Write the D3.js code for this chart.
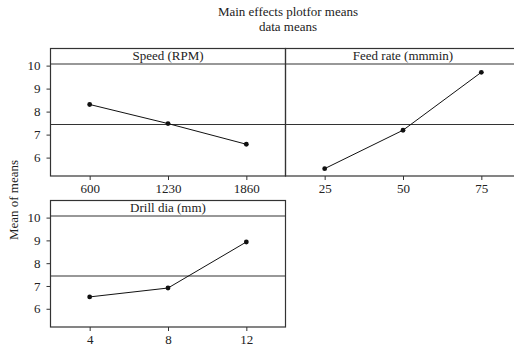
<!DOCTYPE html>
<html>
<head>
<meta charset="utf-8">
<script src="https://cdn.jsdelivr.net/npm/d3@7"></script>
<style>
  body { margin: 0; background: #fff; }
  svg { display: block; }
  text { font-family: "Liberation Serif", "DejaVu Serif", serif; fill: #222; }
</style>
</head>
<body>
<div id="chart"></div>
<script>
// values
var factors = ["Speed (RPM)", "Feed rate (mmmin)", "Drill dia (mm)"];
var speedLevels = ["600", "1230", "1860"];
var speedMeans = [8.31, 7.48, 6.58];
var feedLevels = ["25", "50", "75"];
var feedMeans = [5.52, 7.19, 9.71];
var drillLevels = ["4", "8", "12"];
var drillMeans = [6.52, 6.91, 8.93];
var grandMean = 7.44;
var yTicks = [6, 7, 8, 9, 10];

var panels = [
    { name: factors[0], levels: speedLevels, means: speedMeans, col: 0, row: 0 },
    { name: factors[1], levels: feedLevels, means: feedMeans, col: 1, row: 0 },
    { name: factors[2], levels: drillLevels, means: drillMeans, col: 0, row: 1 }
];

var W = 514, H = 347;
var colX = [50.5, 285.5], panelW = 235;
var rowY = [48.5, 200.5], stripH = 15.5, plotH = [112, 111];
var fs = "13px";

var svg = d3.select("#chart").append("svg")
    .attr("width", W)
    .attr("height", H);

svg.append("text")
    .attr("x", 288).attr("y", 16)
    .attr("text-anchor", "middle")
    .style("font-size", fs)
    .text("Main effects plotfor means");
svg.append("text")
    .attr("x", 288).attr("y", 31)
    .attr("text-anchor", "middle")
    .style("font-size", fs)
    .text("data means");

svg.append("text")
    .attr("transform", "translate(18,200) rotate(-90)")
    .attr("text-anchor", "middle")
    .style("font-size", fs)
    .text("Mean of means");

panels.forEach(function (p) {
    var x0 = colX[p.col], y0 = rowY[p.row];
    var top = y0 + stripH, h = plotH[p.row];

    var g = svg.append("g").attr("transform", "translate(" + x0 + "," + top + ")");

    var x = d3.scalePoint().domain(p.levels).range([0, panelW]).padding(0.5);
    var y = d3.scaleLinear().domain([5.2, 10.07]).range([h, 0]);

    // strip + frame
    svg.append("rect")
        .attr("x", x0).attr("y", y0)
        .attr("width", panelW).attr("height", stripH + h)
        .attr("fill", "none").attr("stroke", "#333").attr("stroke-width", 1.2);
    svg.append("line")
        .attr("x1", x0).attr("x2", x0 + panelW)
        .attr("y1", top).attr("y2", top)
        .attr("stroke", "#333").attr("stroke-width", 1.2);
    svg.append("text")
        .attr("x", x0 + panelW / 2).attr("y", y0 + 11.5)
        .attr("text-anchor", "middle")
        .style("font-size", fs)
        .text(p.name);

    // grand mean reference line
    g.append("line")
        .attr("x1", 0).attr("x2", panelW)
        .attr("y1", y(grandMean)).attr("y2", y(grandMean))
        .attr("stroke", "#333").attr("stroke-width", 1.1);

    // x axis
    var xa = g.append("g")
        .attr("transform", "translate(0," + h + ")")
        .call(d3.axisBottom(x).tickSize(4).tickPadding(4));
    xa.select(".domain").remove();
    xa.selectAll("line").attr("stroke", "#333");
    xa.selectAll("text").style("font-size", fs).attr("fill", "#222")
        .style("font-family", "'Liberation Serif', serif");

    // y axis only on the left column
    if (p.col === 0) {
        var ya = g.append("g")
            .call(d3.axisLeft(y).tickValues(yTicks).tickFormat(d3.format("d"))
                .tickSize(4).tickPadding(6));
        ya.select(".domain").remove();
        ya.selectAll("line").attr("stroke", "#333");
        ya.selectAll("text").style("font-size", fs).attr("fill", "#222")
            .style("font-family", "'Liberation Serif', serif");
    }

    var pts = p.levels.map(function (l, i) { return [x(l), y(p.means[i])]; });
    g.append("path")
        .attr("d", d3.line()(pts))
        .attr("fill", "none").attr("stroke", "#111").attr("stroke-width", 1);
    g.selectAll("circle")
        .data(pts)
        .enter().append("circle")
        .attr("cx", function (d) { return d[0]; })
        .attr("cy", function (d) { return d[1]; })
        .attr("r", 2.4)
        .attr("fill", "#111");
});
</script>
</body>
</html>
